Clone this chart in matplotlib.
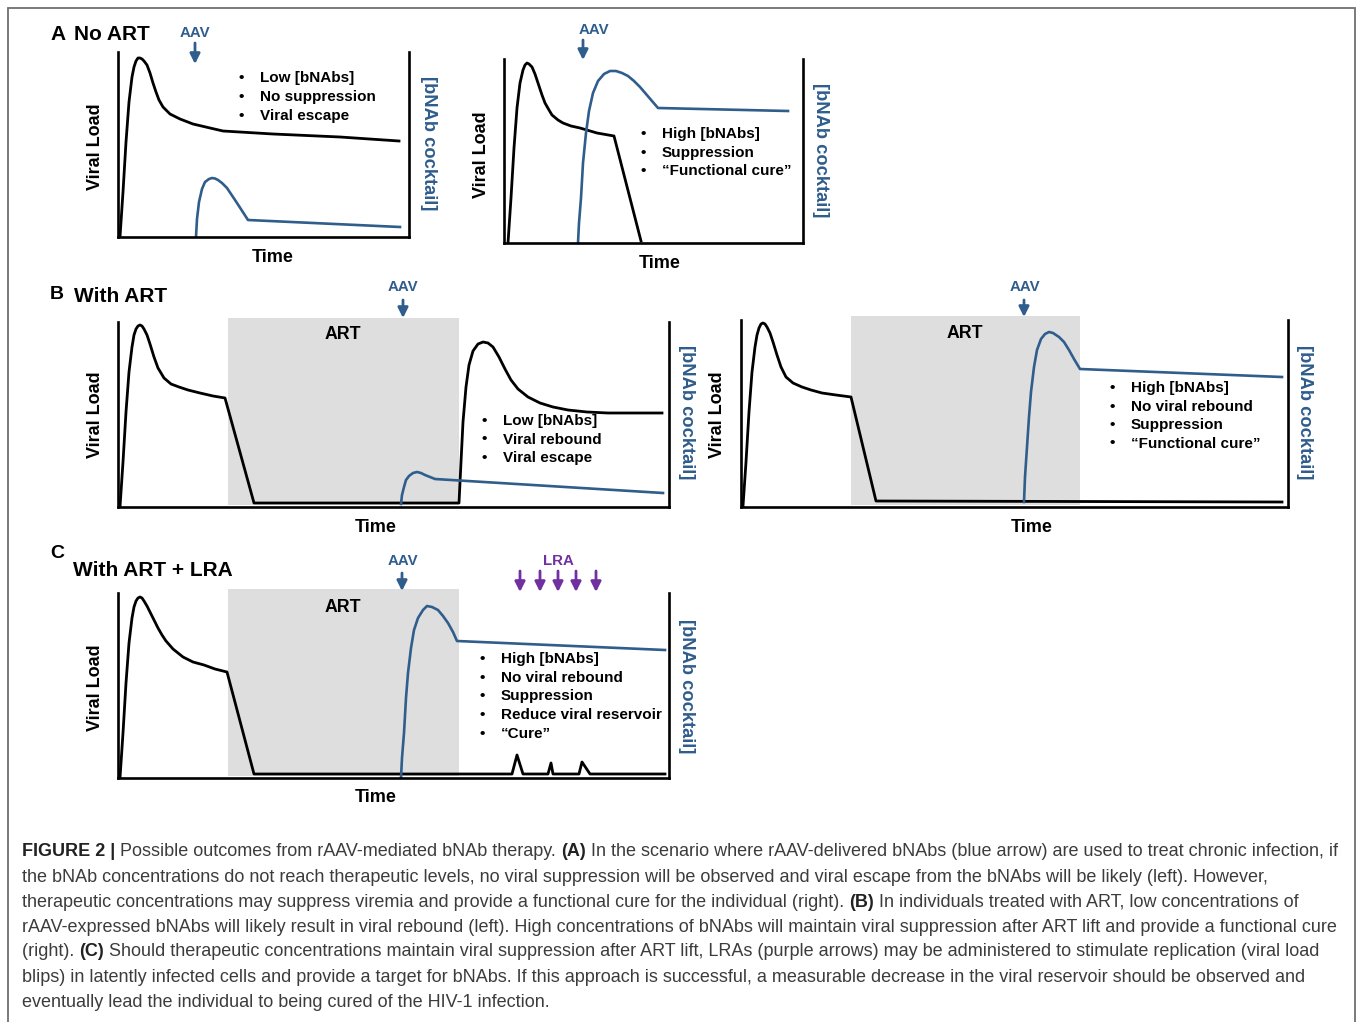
"""
Schematic of possible outcomes from rAAV-mediated bNAb therapy (Figure 2).
Panels A (no ART), B (with ART) and C (with ART + LRA), plus the caption.
"""
import matplotlib
matplotlib.use("Agg")
import matplotlib.pyplot as plt
from matplotlib.patches import Rectangle

plt.rcParams['font.family'] = ['Liberation Sans', 'DejaVu Sans']

W_PX, H_PX = 1357, 1022
BLUE = '#2F5D8C'
PURPLE = '#7030A0'
ART_GRAY = '#DEDEDE'
CAPTION_COLOR = '#3C3C3C'

# ---------------------------------------------------------------------------
# Data (arbitrary time / level units)
# ---------------------------------------------------------------------------
# A, left: low bNAbs, no suppression
a1_vl_t = [2, 5, 8, 11, 14, 16, 18, 20, 22, 24, 26, 29, 32, 35, 38, 41, 45, 52,
           62, 75, 92, 105, 155, 222, 281]
a1_vl_v = [0, 45, 95, 135, 160, 170, 176, 179, 179, 178, 176, 172, 164, 154, 145,
           137, 130, 123, 118, 113, 109, 106, 103, 100, 96]
a1_ab_t = [78, 79, 81, 84, 87, 91, 94, 97, 100, 104, 109, 119, 130, 282]
a1_ab_v = [0, 18, 35, 48, 55, 58, 59, 58.5, 57, 54, 49, 34, 17, 10]
a1_aav = 77
a1_items = ['Low [bNAbs]', 'No suppression', 'Viral escape']

# A, right: high bNAbs, suppression
a2_vl_t = [4, 7, 10, 13, 16, 19, 21, 23, 25, 28, 31, 34, 38, 41, 45, 48, 54, 59,
           67, 76, 93, 110, 137]
a2_vl_v = [0, 45, 95, 135, 160, 173, 178, 180, 179, 176, 169, 160, 148, 140, 133,
           128, 123, 120, 117, 115, 110, 107, 2]
a2_ab_t = [74, 75, 77, 79, 82, 85, 89, 94, 100, 106, 112, 118, 124, 130, 136, 154, 284]
a2_ab_v = [0, 20, 45, 80, 110, 132, 150, 162, 169, 172, 172, 170, 167, 162, 156, 135, 132]
a2_aav = 79
a2_items = ['High [bNAbs]', 'Suppression', '\u201cFunctional cure\u201d']

# B, left: with ART, low bNAbs -> rebound
b1_vl_t = [2, 5, 8, 11, 14, 16, 18, 20, 22, 24, 26, 29, 32, 36, 40, 46, 53, 61,
           70, 82, 95, 107, 136, 341, 343, 345, 348, 351, 355, 360, 365, 370, 375,
           381, 387, 393, 400, 410, 422, 435, 450, 469, 490, 511, 544]
b1_vl_v = [0, 45, 95, 135, 160, 172, 178, 181, 182, 181, 178, 172, 163, 150, 139,
           129, 123, 120, 117, 114, 111, 109, 4, 4, 45, 85, 120, 142, 156, 163,
           165, 164, 160, 150, 138, 127, 118, 110, 104, 100, 97, 95, 94, 94, 94]
b1_ab_t = [283, 284, 286, 288, 291, 295, 299, 303, 307, 312, 317, 545]
b1_ab_v = [3, 12, 20, 27, 31, 34, 35, 34, 32, 30, 28, 14]
b1_art = (110, 341)
b1_aav = 285
b1_items = ['Low [bNAbs]', 'Viral rebound', 'Viral escape']

# B, right: with ART, high bNAbs -> no rebound
b2_vl_t = [2, 5, 8, 11, 14, 16, 18, 20, 22, 24, 26, 29, 32, 36, 40, 45, 52, 61,
           70, 81, 95, 110, 135, 541]
b2_vl_v = [1, 45, 95, 135, 160, 172, 179, 183, 184, 183, 180, 174, 165, 152, 140,
           130, 124, 120, 117, 114, 112, 110, 6, 5]
b2_ab_t = [283, 284, 286, 288, 290, 293, 296, 300, 304, 308, 312, 318, 323, 328,
           333, 339, 541]
b2_ab_v = [5, 30, 60, 90, 115, 140, 157, 168, 173, 175, 174, 170, 165, 157, 148,
           138, 130]
b2_art = (110, 339)
b2_aav = 283
b2_items = ['High [bNAbs]', 'No viral rebound', 'Suppression', '\u201cFunctional cure\u201d']

# C: with ART + LRA -> blips, reservoir reduction
c_vl_t = [2, 5, 8, 11, 14, 16, 18, 20, 22, 24, 26, 29, 32, 36, 40, 44, 48, 55,
          65, 75, 86, 97, 109, 136, 394, 399, 405, 430, 433, 435, 461, 464, 472, 547]
c_vl_v = [0, 45, 95, 135, 160, 171, 177, 180, 181, 180, 177, 172, 166, 158, 150,
          143, 137, 129, 121, 116, 113, 109, 106, 4, 4, 23, 4, 4, 15, 4, 4, 16, 4, 4]
c_ab_t = [283, 284, 286, 288, 290, 293, 296, 300, 305, 309, 314, 320, 325, 330,
          335, 339, 547]
c_ab_v = [0, 20, 45, 80, 105, 130, 148, 160, 168, 172, 171, 168, 162, 155, 146,
          137, 128]
c_art = (110, 341)
c_aav = 284
c_lra = [402, 422, 440, 458, 478]
c_items = ['High [bNAbs]', 'No viral rebound', 'Suppression',
           'Reduce viral reservoir', '\u201cCure\u201d']

caption_lines = [
    [('FIGURE 2 |', True), (' Possible outcomes from rAAV-mediated bNAb therapy. ', False),
     ('(A)', True),
     (' In the scenario where rAAV-delivered bNAbs (blue arrow) are used to treat chronic infection, if', False)],
    [('the bNAb concentrations do not reach therapeutic levels, no viral suppression will be observed '
      'and viral escape from the bNAbs will be likely (left). However,', False)],
    [('therapeutic concentrations may suppress viremia and provide a functional cure for the individual (right). ', False),
     ('(B)', True), (' In individuals treated with ART, low concentrations of', False)],
    [('rAAV-expressed bNAbs will likely result in viral rebound (left). High concentrations of bNAbs '
      'will maintain viral suppression after ART lift and provide a functional cure', False)],
    [('(right). ', False), ('(C)', True),
     (' Should therapeutic concentrations maintain viral suppression after ART lift, LRAs (purple arrows) '
      'may be administered to stimulate replication (viral load', False)],
    [('blips) in latently infected cells and provide a target for bNAbs. If this approach is successful, '
      'a measurable decrease in the viral reservoir should be observed and', False)],
    [('eventually lead the individual to being cured of the HIV-1 infection.', False)],
]

# ---------------------------------------------------------------------------
# Helpers
# ---------------------------------------------------------------------------
fig = plt.figure(figsize=(W_PX / 100, H_PX / 100), dpi=100)


def ftext(x, y, s, **kw):
    """Text placed in figure pixel coordinates (origin top-left)."""
    kw.setdefault('ha', 'center')
    kw.setdefault('va', 'center')
    return fig.text(x / W_PX, 1 - y / H_PX, s, **kw)


def add_panel(left, top, right, bottom):
    ax = fig.add_axes([left / W_PX, 1 - bottom / H_PX,
                       (right - left) / W_PX, (bottom - top) / H_PX])
    ax.set_xlim(0, right - left)
    ax.set_ylim(0, bottom - top)
    ax.patch.set_visible(False)
    ax.spines['top'].set_visible(False)
    for s in ('left', 'right', 'bottom'):
        ax.spines[s].set_linewidth(1.9)
        ax.spines[s].set_color('black')
        ax.spines[s].set_zorder(5)
    ax.set_xticks([])
    ax.set_yticks([])
    return ax


def arrow(ax, t, y_tail, y_tip, color):
    ax.annotate('', xy=(t, y_tip), xytext=(t, y_tail),
                arrowprops=dict(arrowstyle='-|>', color=color, lw=2.0,
                                mutation_scale=15, shrinkA=0, shrinkB=0),
                annotation_clip=False)


def draw_panel(box, vl_t, vl_v, ab_t, ab_v, art=None):
    left, top, right, bottom = box
    ax = add_panel(left, top, right, bottom)
    h = bottom - top
    if art is not None:
        ax.add_patch(Rectangle((art[0], 2), art[1] - art[0], h + 2,
                               facecolor=ART_GRAY, edgecolor='none',
                               zorder=0, clip_on=False))
    ax.plot(vl_t, vl_v, color='black', lw=2.0, solid_joinstyle='round', zorder=3)
    ax.plot(ab_t, ab_v, color=BLUE, lw=1.9, solid_joinstyle='round', zorder=3)
    return ax


def bullets(x, y0, dy, items, size=11):
    for i, s in enumerate(items):
        y = y0 + i * dy
        ftext(x, y, '\u2022', fontsize=size, fontweight='bold')
        ftext(x + 19, y, s, ha='left', fontsize=size, fontweight='bold')


def side_labels(x_left, x_right, y_mid_left, y_mid_right, x_time, y_time):
    ftext(x_left, y_mid_left, 'Viral Load', rotation=90, fontsize=13, fontweight='bold')
    ftext(x_right, y_mid_right, '[bNAb cocktail]', rotation=270, fontsize=13.2,
          fontweight='bold', color=BLUE)
    ftext(x_time, y_time, 'Time', fontsize=13, fontweight='bold')


# ---------------------------------------------------------------------------
# Panel A
# ---------------------------------------------------------------------------
ftext(50, 35, 'A', ha='left', fontsize=15, fontweight='bold')
ftext(74, 35, 'No ART', ha='left', fontsize=15, fontweight='bold')

ax = draw_panel((118, 52, 409, 237), a1_vl_t, a1_vl_v, a1_ab_t, a1_ab_v)
arrow(ax, a1_aav, 194, 173, BLUE)
ftext(195, 33, 'AAV', fontsize=10.8, fontweight='bold', color=BLUE)
bullets(241, 78, 19, a1_items)
side_labels(96, 428, 147, 143, 273, 257)

ax = draw_panel((504, 59, 803, 243), a2_vl_t, a2_vl_v, a2_ab_t, a2_ab_v)
arrow(ax, a2_aav, 203, 183, BLUE)
ftext(594, 30, 'AAV', fontsize=10.8, fontweight='bold', color=BLUE)
bullets(643, 134, 18.5, a2_items)
side_labels(482, 820, 155, 150, 660, 264)

# ---------------------------------------------------------------------------
# Panel B
# ---------------------------------------------------------------------------
ftext(50, 294, 'B', ha='left', fontsize=14, fontweight='bold')
ftext(74, 296, 'With ART', ha='left', fontsize=15, fontweight='bold')

ax = draw_panel((118, 322, 669, 507), b1_vl_t, b1_vl_v, b1_ab_t, b1_ab_v, b1_art)
arrow(ax, b1_aav, 207, 189, BLUE)
ftext(403, 287, 'AAV', fontsize=10.8, fontweight='bold', color=BLUE)
ftext(343, 334, 'ART', fontsize=12.8, fontweight='bold')
bullets(484, 421, 18.5, b1_items)
side_labels(96, 686, 415, 412, 376, 527)

ax = draw_panel((741, 320, 1288, 507), b2_vl_t, b2_vl_v, b2_ab_t, b2_ab_v, b2_art)
arrow(ax, b2_aav, 207, 190, BLUE)
ftext(1025, 287, 'AAV', fontsize=10.8, fontweight='bold', color=BLUE)
ftext(965, 333, 'ART', fontsize=12.8, fontweight='bold')
bullets(1112, 388, 18.5, b2_items)
side_labels(718, 1304, 415, 412, 1032, 527)

# ---------------------------------------------------------------------------
# Panel C
# ---------------------------------------------------------------------------
ftext(50, 553, 'C', ha='left', fontsize=14, fontweight='bold')
ftext(73, 571, 'With ART + LRA', ha='left', fontsize=15, fontweight='bold')

ax = draw_panel((118, 593, 669, 778), c_vl_t, c_vl_v, c_ab_t, c_ab_v, c_art)
arrow(ax, c_aav, 205, 187, BLUE)
for t in c_lra:
    arrow(ax, t, 207, 186, PURPLE)
ftext(403, 561, 'AAV', fontsize=10.8, fontweight='bold', color=BLUE)
ftext(558, 561, 'LRA', fontsize=10.8, fontweight='bold', color=PURPLE)
ftext(343, 607, 'ART', fontsize=12.8, fontweight='bold')
bullets(482, 659, 18.7, c_items)
side_labels(96, 686, 688, 686, 376, 797)

# ---------------------------------------------------------------------------
# Caption
# ---------------------------------------------------------------------------
renderer = fig.canvas.get_renderer()
probe = ftext(22, 877, caption_lines[1][0][0], ha='left', fontsize=11)
probe_w = probe.get_window_extent(renderer).width
probe.remove()
cap_size = 11 * 1241 / probe_w

for i, runs in enumerate(caption_lines):
    y = 852 + i * 25
    x = 22
    for s, bold in runs:
        t = ftext(x, y, s, ha='left', fontsize=cap_size,
                  fontweight='bold' if bold else 'normal',
                  color='#222222' if bold else CAPTION_COLOR)
        x += t.get_window_extent(renderer).width

# figure frame
fig.add_artist(Rectangle((8 / W_PX, -0.02), (1355 - 8) / W_PX, 1 - 8 / H_PX + 0.02,
                         transform=fig.transFigure, fill=False,
                         edgecolor='#707070', linewidth=1.3))

fig.savefig('out.png', dpi=100)
